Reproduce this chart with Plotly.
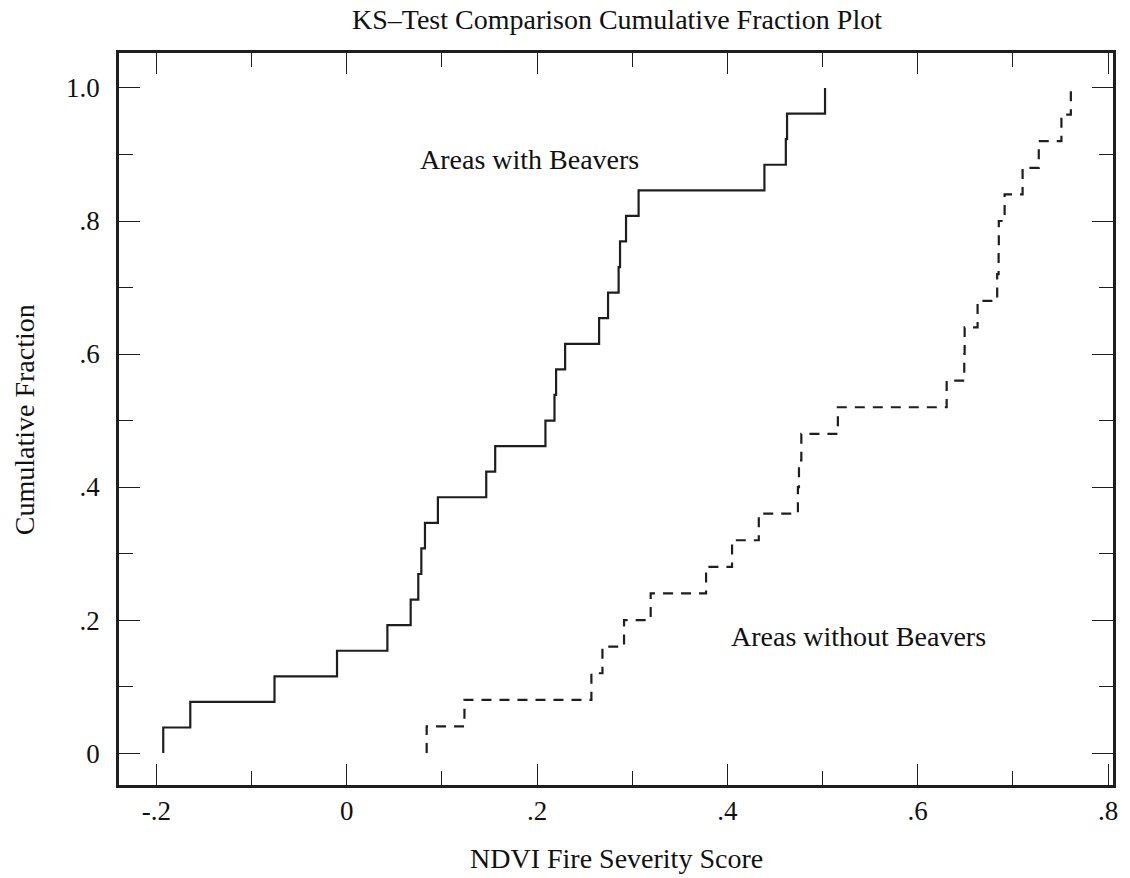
import numpy as np
import plotly.graph_objects as go

# NDVI fire severity scores (sorted), one list per group
with_beavers = [
    -0.1928, -0.1644, -0.0759, -0.0102, 0.0427, 0.0672, 0.0752, 0.0784,
    0.0822, 0.0958, 0.1466, 0.1560, 0.2088, 0.2183, 0.2200, 0.2295,
    0.2652, 0.2746, 0.2857, 0.2872, 0.2935, 0.3067, 0.4389, 0.4614,
    0.4627, 0.5026,
]
without_beavers = [
    0.0840, 0.1237, 0.2571, 0.2687, 0.2914, 0.3194, 0.3776, 0.4049,
    0.4330, 0.4741, 0.4752, 0.4777, 0.5161, 0.6304, 0.6489, 0.6493,
    0.6629, 0.6835, 0.6850, 0.6852, 0.6913, 0.7102, 0.7272, 0.7510,
    0.7609,
]

x_tick_vals = [-0.2, 0, 0.2, 0.4, 0.6, 0.8]
x_tick_text = ["-.2", "0", ".2", ".4", ".6", ".8"]
y_tick_vals = [0, 0.2, 0.4, 0.6, 0.8, 1.0]
y_tick_text = ["0", ".2", ".4", ".6", ".8", "1.0"]

FONT = "Liberation Serif, Times New Roman, serif"
INK = "#1e1e1e"
TXT = "#111"
TEXT_SIZE = 28
TICK_SIZE = 27


def ecdf_path(values):
    """Step path of the cumulative fraction: rises 1/n at each sorted value."""
    v = np.sort(np.asarray(values, dtype=float))
    n = len(v)
    xs = np.concatenate([[v[0]], v])
    ys = np.concatenate([[0.0], np.arange(1, n + 1) / n])
    return xs, ys


fig = go.Figure()

xb, yb = ecdf_path(with_beavers)
fig.add_trace(go.Scatter(
    x=xb, y=yb, mode="lines", line_shape="hv",
    line=dict(color=INK, width=2.2),
    name="Areas with Beavers", hoverinfo="skip",
))

xn, yn = ecdf_path(without_beavers)
fig.add_trace(go.Scatter(
    x=xn, y=yn, mode="lines", line_shape="hv",
    line=dict(color=INK, width=2.2, dash="10px,8px"),
    name="Areas without Beavers", hoverinfo="skip",
))

axis_common = dict(
    showgrid=False, zeroline=False,
    showline=True, linecolor=INK, linewidth=2.5, mirror="allticks",
    ticks="inside", ticklen=21, tickwidth=1.3, tickcolor=INK,
    tickfont=dict(family=FONT, size=TICK_SIZE, color=TXT),
)

fig.update_xaxes(
    range=[-0.2393, 0.8052],
    tickmode="array", tickvals=x_tick_vals, ticktext=x_tick_text,
    minor=dict(ticks="inside", dtick=0.1, ticklen=14, tickwidth=1.3,
               tickcolor=INK, showgrid=False),
    ticklabelstandoff=0,
    **axis_common,
)
fig.update_yaxes(
    range=[-0.0480, 1.0526],
    tickmode="array", tickvals=y_tick_vals, ticktext=y_tick_text,
    minor=dict(ticks="inside", dtick=0.1, ticklen=14, tickwidth=1.3,
               tickcolor=INK, showgrid=False),
    ticklabelstandoff=11,
    **axis_common,
)

fig.add_annotation(x=0.1917, y=0.893, xref="x", yref="y",
                   text="Areas with Beavers", showarrow=False,
                   font=dict(family=FONT, size=TEXT_SIZE, color=TXT))
fig.add_annotation(x=0.5376, y=0.1757, xref="x", yref="y",
                   text="Areas without Beavers", showarrow=False,
                   font=dict(family=FONT, size=TEXT_SIZE, color=TXT))

W, H = 1130, 878
L, R, T, B = 119, 15, 53, 93

# axis titles, placed by pixel centre and converted to paper coordinates
def px_to_paper(px, py):
    return (px - L) / (W - L - R), (H - B - py) / (H - T - B)

ax_x, ax_y = px_to_paper(617, 858)
fig.add_annotation(x=ax_x, y=ax_y, xref="paper", yref="paper",
                   xanchor="center", yanchor="middle",
                   text="NDVI Fire Severity Score", showarrow=False,
                   font=dict(family=FONT, size=TEXT_SIZE, color=TXT))
ay_x, ay_y = px_to_paper(24, 420)
fig.add_annotation(x=ay_x, y=ay_y, xref="paper", yref="paper",
                   xanchor="center", yanchor="middle",
                   text="Cumulative Fraction", showarrow=False, textangle=-90,
                   font=dict(family=FONT, size=TEXT_SIZE, color=TXT))

fig.update_layout(
    width=W, height=H,
    margin=dict(l=L, r=R, t=T, b=B),
    paper_bgcolor="white", plot_bgcolor="white",
    showlegend=False,
    title=dict(text="KS\u2013Test Comparison Cumulative Fraction Plot",
               x=617 / W, xanchor="center", y=1 - 19 / H, yanchor="middle",
               yref="container",
               font=dict(family=FONT, size=TEXT_SIZE, color=TXT)),
)

fig.write_html("out.html")
